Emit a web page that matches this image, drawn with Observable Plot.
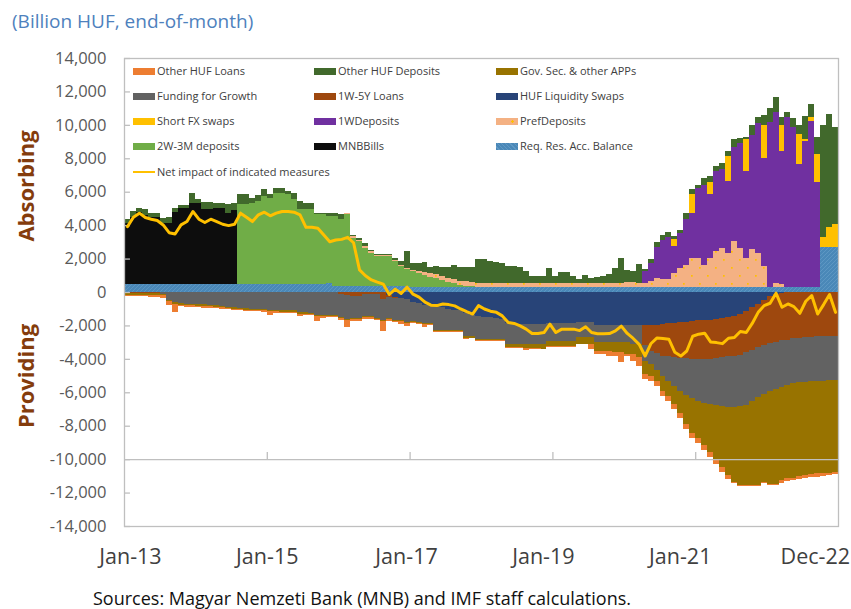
<!DOCTYPE html>
<html><head><meta charset="utf-8">
<script src="https://cdn.jsdelivr.net/npm/d3@7"></script>
<script src="https://cdn.jsdelivr.net/npm/@observablehq/plot@0.6"></script>
<style>
html,body{margin:0;padding:0;background:#fff;}
#wrap{position:relative;width:851px;height:609px;font-family:"Open Sans",sans-serif;overflow:hidden;background:#fff;}
#wrap svg{position:absolute;left:0;top:0;}
.sub{position:absolute;left:12px;top:8px;font-size:19px;color:#4e81bd;white-space:nowrap;}
.cap{position:absolute;left:93px;top:586px;font-size:18px;color:#111;white-space:nowrap;}
.side{position:absolute;font-weight:700;font-size:22px;color:#843C0C;transform:translate(-50%,-50%) rotate(-90deg);white-space:nowrap;}
.lg{position:absolute;font-size:11px;color:#404040;white-space:nowrap;line-height:16px;}
.sw{position:absolute;width:22px;height:7px;}
</style></head><body><div id="wrap"></div>
<script>
// ---- axis / label data ----
const xTickPos = [1.0, 24.0, 47.4, 70.4, 93.4, 116.1];
const xTickLabels = ["Jan-13", "Jan-15", "Jan-17", "Jan-19", "Jan-21", "Dec-22"];
const yTicks = [-14000,-12000,-10000,-8000,-6000,-4000,-2000,0,2000,4000,6000,8000,10000,12000,14000];
const axisTickMonths = [24, 48, 72, 96];

// ---- monthly series, Jan-13 .. Dec-22 (billion HUF) ----
const reqResBalance = [
460,460,460,460,460,460,460,460,460,460,460,460,
460,460,460,460,460,460,460,460,460,460,460,460,
460,460,460,460,460,460,460,460,460,460,560,380,
380,380,380,380,380,380,380,380,380,380,380,380,
300,300,300,300,300,300,300,300,300,300,300,300,
300,300,300,300,300,300,300,300,300,300,300,300,
300,300,300,300,300,300,300,300,300,300,300,300,
300,300,300,300,300,300,300,300,300,300,300,300,
300,300,300,300,300,300,300,300,300,300,300,300,
300,300,300,300,300,300,300,300,300,2700,2700,2700];
const mnbBills = [
3680,4030,4330,4130,4030,4030,3680,3680,4350,4590,4590,4890,
4890,4490,4490,4590,4590,4290,4450,0,0,0,0,0,
0,0,0,0,0,0,0,0,0,0,0,0,
0,0,0,0,0,0,0,0,0,0,0,0,
0,0,0,0,0,0,0,0,0,0,0,0,
0,0,0,0,0,0,0,0,0,0,0,0,
0,0,0,0,0,0,0,0,0,0,0,0,
0,0,0,0,0,0,0,0,0,0,0,0,
0,0,0,0,0,0,0,0,0,0,0,0,
0,0,0,0,0,0,0,0,0,0,0,0];
const deposits2W3M = [
0,0,0,0,0,0,0,0,0,0,0,0,
0,0,0,0,0,0,0,4790,4790,4890,4990,5290,
5190,5490,5490,5390,5090,4490,4490,4490,4190,4190,3990,4170,
3960,4270,2860,2660,2250,1950,1750,1750,1750,1450,1150,990,
930,830,730,625,525,424,323,223,122,80,40,0,
0,0,0,0,0,0,0,0,0,0,0,0,
0,0,0,0,0,0,0,0,0,0,0,0,
0,0,0,0,0,0,0,0,0,0,0,0,
0,0,0,0,0,0,0,0,0,0,0,0,
0,0,0,0,0,0,0,0,0,0,0,0];
const prefDeposits = [
0,0,0,0,0,0,0,0,0,0,0,0,
0,0,0,0,0,0,0,0,0,0,0,0,
0,0,0,0,0,0,0,0,0,0,0,0,
0,100,100,100,100,100,80,80,80,100,100,60,
100,150,140,200,260,220,220,230,260,260,260,240,
240,240,240,240,240,240,240,240,240,240,240,240,
240,240,240,240,240,240,240,240,240,240,240,240,
320,320,240,240,360,520,480,480,820,1130,1330,1730,
1730,1330,1730,2130,2330,2030,2740,2330,1730,2290,2030,1230,
0,220,160,0,0,0,0,0,0,0,0,0];
const deposits1W = [
0,0,0,0,0,0,0,0,0,0,0,0,
0,0,0,0,0,0,0,0,0,0,0,0,
0,0,0,0,0,0,0,0,0,0,0,0,
0,0,0,0,0,0,0,0,0,0,0,0,
0,0,0,0,0,0,0,0,0,0,0,0,
0,0,0,0,0,0,0,0,0,0,0,0,
0,0,0,0,0,0,0,0,0,0,0,0,
0,0,0,705,1066,1856,2334,2485,1650,2073,2716,2716,
4175,4767,3822,4829,4728,4325,5633,6266,5231,6780,7786,6479,
9879,10262,7949,10181,9577,7364,8712,9919,6257,0,0,0];
const shortFxSwaps = [
0,0,0,0,0,0,0,0,0,0,0,0,
0,0,0,0,0,0,0,0,0,0,0,0,
0,0,0,0,0,0,0,0,0,0,0,0,
0,0,0,0,0,0,0,0,0,0,0,0,
0,0,0,0,0,0,0,0,0,0,0,0,
0,0,0,0,0,0,0,0,0,0,0,0,
0,0,0,0,0,0,0,0,0,0,0,0,
0,0,0,0,0,0,0,0,400,0,0,1107,
0,0,745,0,0,1509,0,0,1891,0,0,2012,
0,0,1609,0,0,1771,161,262,1710,600,1200,1350];
const otherHufDeposits = [
240,360,260,360,260,260,300,340,240,160,160,560,
200,440,440,260,260,500,440,600,600,300,340,400,
200,300,300,200,400,500,360,360,100,100,200,200,
300,0,100,100,200,100,80,80,80,100,200,1000,
400,450,620,400,480,580,640,870,840,860,900,1430,
1410,1290,1260,1190,1010,990,960,690,390,390,390,890,
390,630,630,410,260,480,310,330,410,560,890,1490,
710,650,1130,120,260,320,300,320,180,220,400,280,
170,400,320,260,360,300,460,300,140,600,360,560,
845,905,463,302,544,543,1348,764,1007,6680,6740,5800];
const hufLiquiditySwaps = [
0,0,0,0,0,0,0,0,0,0,0,0,
0,0,0,0,0,0,0,0,0,0,0,0,
0,0,0,0,0,0,0,0,0,0,0,0,
0,0,0,0,0,0,0,0,-200,-300,-340,-400,
-600,-650,-750,-800,-850,-900,-1000,-1050,-1100,-1250,-1350,-1450,
-1500,-1500,-1550,-1600,-1850,-1890,-1890,-1890,-1890,-1890,-1890,-1850,
-1850,-1850,-1850,-1850,-1790,-1790,-1790,-1990,-1990,-1990,-1990,-1990,
-1990,-1990,-1990,-2000,-1980,-1950,-1900,-1880,-1850,-1800,-1780,-1750,
-1700,-1680,-1650,-1600,-1550,-1480,-1430,-1300,-1150,-900,-700,-450,
-250,-100,-30,0,0,0,0,0,0,0,0,0];
const loans1W5Y = [
-40,-40,-40,-40,-40,-40,0,0,0,0,0,0,
0,0,0,0,0,0,0,0,0,0,0,0,
0,0,0,0,0,0,0,0,0,0,0,0,
-100,-200,-250,-250,-100,-100,-100,-400,-80,-50,-40,-30,
-20,0,0,0,0,0,0,0,0,0,0,0,
0,0,0,0,0,0,0,0,0,0,0,0,
0,0,0,0,0,0,0,0,0,0,0,0,
0,0,0,-1200,-1520,-1700,-1900,-1970,-2050,-2150,-2190,-2250,
-2300,-2320,-2330,-2350,-2350,-2370,-2370,-2450,-2450,-2550,-2600,-2750,
-2830,-2900,-2870,-2850,-2780,-2740,-2700,-2680,-2660,-2650,-2650,-2660];
const fundingForGrowth = [
0,0,0,0,0,0,-100,-450,-600,-680,-690,-700,
-710,-740,-750,-800,-810,-880,-890,-940,-950,-1000,-1000,-1000,
-1050,-1050,-1100,-1100,-1100,-1200,-1220,-1230,-1350,-1350,-1400,-1400,
-1400,-1400,-1300,-1300,-1350,-1350,-1450,-1300,-1300,-1300,-1300,-1350,
-1110,-1140,-1100,-1030,-1440,-1390,-1290,-1240,-1190,-1410,-1310,-1350,
-1300,-1300,-1250,-1200,-1250,-1210,-1210,-1210,-1210,-1210,-1210,-1110,
-1110,-1110,-1110,-1110,-910,-910,-910,-1010,-1010,-1010,-1010,-1010,
-1010,-1110,-1110,-900,-800,-1000,-1200,-1450,-1700,-1950,-2180,-2350,
-2520,-2620,-2740,-2830,-2930,-3020,-3080,-3100,-3150,-3100,-3000,-2880,
-2820,-2780,-2780,-2710,-2670,-2660,-2670,-2650,-2650,-2650,-2640,-2630];
const govSecApps = [
-140,-140,-130,-130,-130,-140,-100,-80,-100,-100,-100,-100,
-100,-100,-100,-100,-100,-100,-100,-100,-100,-80,-80,-100,
-100,-100,-100,-100,-100,-120,-100,-100,-100,-100,-60,-60,
-60,-60,-60,-60,-60,-60,-60,-60,-60,-60,-60,-60,
-60,-60,-60,-60,-60,-60,-60,-60,-60,-80,-80,-60,
-60,-60,-60,-60,-200,-200,-200,-250,-250,-250,-300,-300,
-300,-300,-300,-300,-400,-400,-400,-500,-500,-500,-600,-600,
-700,-600,-800,-800,-750,-700,-900,-900,-1100,-1350,-1750,-2100,
-2230,-2530,-2880,-3220,-3650,-4060,-4490,-4690,-4810,-4990,-5240,-5310,
-5590,-5680,-5590,-5590,-5650,-5600,-5550,-5550,-5490,-5550,-5510,-5490];
const otherHufLoans = [
-80,-80,-60,-70,-100,-120,-150,-240,-500,-80,-80,-100,
-100,-100,-100,-80,-80,-60,-60,-60,-60,-60,-60,-120,
-200,-100,-60,-60,-60,-100,-40,-40,-300,-80,-60,-60,
-140,-440,-120,-120,-100,-100,-60,-560,-100,-100,-150,-200,
-60,-60,-200,-60,-40,-40,-40,-40,-40,-80,-40,-60,
-60,-60,-60,-60,-40,-40,-40,-100,-60,-60,0,-40,
-40,-40,-40,-40,-40,-40,-300,-200,-200,-300,-200,-600,
-100,-400,-500,-300,-300,-300,-300,-300,-300,-300,-300,-300,
-300,-300,-300,-300,-300,-250,-80,-60,-60,-60,-60,-60,
-60,-60,-150,-150,-150,-180,-200,-200,-250,-150,-150,-120];
const netImpact = [
3942,4506,4747,4485,4385,4304,4043,3580,3500,4043,4244,4848,
4385,4184,4385,4244,4083,4003,4083,4747,4506,4244,4646,4807,
4586,4747,4848,4848,4807,4646,3902,3902,3842,3439,3037,3137,
3178,3298,2976,1350,1000,750,620,500,-120,200,-60,322,
-100,-280,-580,-760,-785,-684,-724,-800,-985,-1150,-1288,-785,
-986,-1120,-1187,-1400,-1791,-1851,-2000,-2193,-2455,-2455,-2395,-1892,
-2395,-2193,-2193,-2193,-2280,-2050,-2395,-2470,-2470,-2455,-2300,-2010,
-2450,-2750,-3100,-3800,-3050,-2720,-2757,-2797,-3580,-3803,-3501,-2616,
-2495,-2435,-2958,-2998,-3059,-2737,-2696,-2334,-2395,-1851,-1187,-785,
-644,-40,-885,-684,-845,-1248,-523,-181,-1288,-724,-121,-1187];

// ---- series order (stacking) and styling ----
const stackSeries = [
  ["Req. Res. Acc. Balance", reqResBalance],
  ["MNBBills", mnbBills],
  ["2W-3M deposits", deposits2W3M],
  ["PrefDeposits", prefDeposits],
  ["1WDeposits", deposits1W],
  ["Short FX swaps", shortFxSwaps],
  ["Other HUF Deposits", otherHufDeposits],
  ["HUF Liquidity Swaps", hufLiquiditySwaps],
  ["1W-5Y Loans", loans1W5Y],
  ["Funding for Growth", fundingForGrowth],
  ["Gov. Sec. & other APPs", govSecApps],
  ["Other HUF Loans", otherHufLoans]
];
const fills = {
  "Other HUF Loans": "#ED7D31", "Other HUF Deposits": "#41692C", "Gov. Sec. & other APPs": "#987300",
  "Funding for Growth": "#626262", "1W-5Y Loans": "#9E480E", "HUF Liquidity Swaps": "#284478",
  "Short FX swaps": "#FFC000", "1WDeposits": "#7030A0", "PrefDeposits": "url(#patPref)",
  "2W-3M deposits": "#70AD47", "MNBBills": "#0D0D0D", "Req. Res. Acc. Balance": "url(#patReq)"
};
const legendOrder = ["Other HUF Loans","Other HUF Deposits","Gov. Sec. & other APPs",
  "Funding for Growth","1W-5Y Loans","HUF Liquidity Swaps",
  "Short FX swaps","1WDeposits","PrefDeposits",
  "2W-3M deposits","MNBBills","Req. Res. Acc. Balance"];
const lineName = "Net impact of indicated measures";

const rows = stackSeries.flatMap(([name, vals]) =>
  vals.map((v, i) => ({series: name, month: i, next: i + 1, value: v})));
const names = stackSeries.map(d => d[0]);
const labelMap = new Map(xTickPos.map((p, i) => [p, xTickLabels[i]]));
const fmt = d => (d < 0 ? "-" : "") + d3.format(",")(Math.abs(d));

const svg = Plot.plot({
  width: 851, height: 609,
  marginTop: 58, marginRight: 13, marginBottom: 83, marginLeft: 124,
  style: {fontFamily: "Open Sans, sans-serif", background: "transparent", overflow: "visible"},
  x: {type: "linear", domain: [0, 120], label: null},
  y: {domain: [-14000, 14000], label: null},
  color: {type: "ordinal", domain: names, range: names.map(n => fills[n])},
  marks: [
    Plot.rectY(rows, Plot.stackY({x1: "month", x2: "next", y: "value", fill: "series", shapeRendering: "crispEdges"})),
    Plot.ruleY([-10000], {stroke: "#bfbfbf", strokeWidth: 1.3}),
    Plot.ruleX(axisTickMonths, {y1: -10000, y2: -9580, stroke: "#bfbfbf", strokeWidth: 1.3}),
    Plot.ruleY(yTicks, {x1: 0, x2: 1, stroke: "#bfbfbf", strokeWidth: 1.3}),
    Plot.lineY(netImpact, {x: (d, i) => i + 0.5, stroke: "#FFC000", strokeWidth: 3}),
    Plot.frame({stroke: "#bfbfbf", strokeWidth: 1.3}),
    Plot.axisY(yTicks, {tickSize: 0, tickPadding: 18, tickFormat: fmt, fontSize: 16.5, color: "#595959", label: null}),
    Plot.axisX(xTickPos, {tickSize: 0, tickPadding: 22, tickFormat: d => labelMap.get(d), fontSize: 21.5, color: "#404040", label: null})
  ]
});

// patterns for hatched / dotted fills
const NS = "http://www.w3.org/2000/svg";
function el(tag, attrs, parent) {
  const e = document.createElementNS(NS, tag);
  for (const k in attrs) e.setAttribute(k, attrs[k]);
  if (parent) parent.appendChild(e);
  return e;
}
const defs = el("defs", {});
const pPref = el("pattern", {id: "patPref", patternUnits: "userSpaceOnUse", width: 16, height: 16}, defs);
el("rect", {width: 16, height: 16, fill: "#F4B183"}, pPref);
el("rect", {x: 3, y: 3, width: 1.7, height: 1.7, fill: "#FFC000"}, pPref);
el("rect", {x: 11, y: 11, width: 1.7, height: 1.7, fill: "#FFC000"}, pPref);
const pReq = el("pattern", {id: "patReq", patternUnits: "userSpaceOnUse", width: 4, height: 4}, defs);
el("rect", {width: 4, height: 4, fill: "#4A88B8"}, pReq);
el("path", {d: "M0,4 L4,0 M-1,1 L1,-1 M3,5 L5,3", stroke: "#5F98C4", "stroke-width": 0.9}, pReq);
svg.insertBefore(defs, svg.firstChild);

const wrap = document.getElementById("wrap");
wrap.appendChild(svg);

function div(cls, text, style) {
  const d = document.createElement("div");
  d.className = cls; if (text) d.textContent = text;
  Object.assign(d.style, style); wrap.appendChild(d); return d;
}
div("sub", "(Billion HUF, end-of-month)", {});
div("cap", "Sources: Magyar Nemzeti Bank (MNB) and IMF staff calculations.", {});
div("side", "Absorbing", {left: "25px", top: "186px"});
div("side", "Providing", {left: "25px", top: "376px"});

// legend
const colSw = [133, 314, 496], rowY = [71, 96, 121, 146, 172];
const swatchBg = {
  "PrefDeposits": "radial-gradient(circle at 75% 50%, #FFC000 0 1px, transparent 1.5px), #F4B183",
  "Req. Res. Acc. Balance": "repeating-linear-gradient(45deg, #4A88B8 0 2px, #5F98C4 2px 3px)"
};
legendOrder.forEach((n, k) => {
  const x = colSw[k % 3], y = rowY[Math.floor(k / 3)];
  div("sw", "", {left: x + "px", top: (y - 3.5) + "px", background: swatchBg[n] || fills[n]});
  div("lg", n, {left: (x + 24) + "px", top: (y - 8) + "px"});
});
div("sw", "", {left: colSw[0] + "px", top: (rowY[4] - 1.4) + "px", height: "2.8px", background: "#FFC000"});
div("lg", lineName, {left: (colSw[0] + 24) + "px", top: (rowY[4] - 8) + "px"});
</script></body></html>
